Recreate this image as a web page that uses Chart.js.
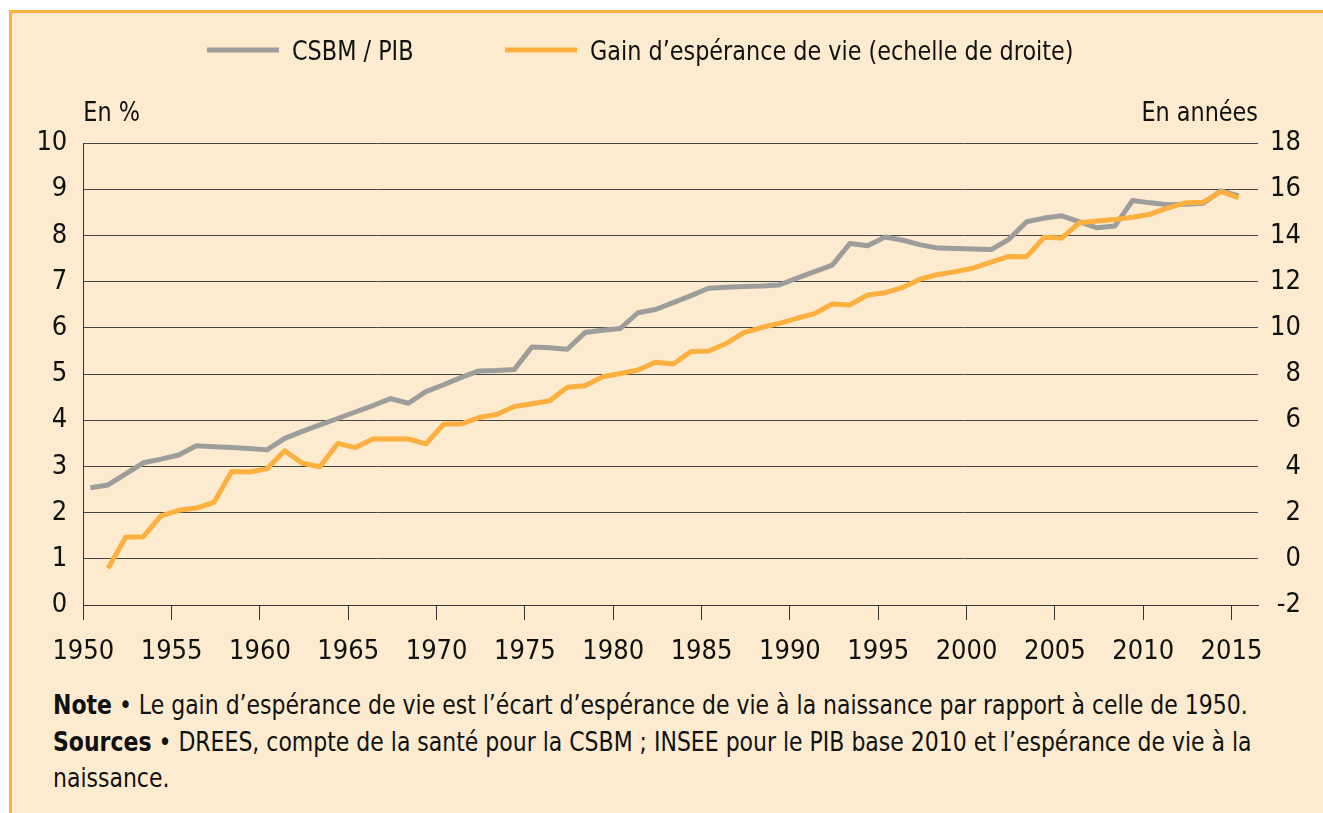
<!DOCTYPE html>
<html lang="fr">
<head>
<meta charset="utf-8">
<script src="https://cdn.jsdelivr.net/npm/chart.js@4"></script>
<style>
  body { margin: 0; background: #fff; overflow: hidden; }
  #frame {
    position: absolute; left: 9px; top: 10px; width: 1330px; height: 820px;
    background: #fdebcf; border-left: 3px solid #fbb040; border-top: 3px solid #fbb040;
  }
  #chart { position: absolute; left: 0; top: 0; }
  .notes {
    position: absolute; left: 53px; top: 687px; white-space: nowrap;
    font-family: 'DejaVu Sans Condensed', 'DejaVu Sans', sans-serif;
    font-size: 27px; line-height: 36.5px; color: #111;
    transform: scaleX(0.905); transform-origin: left top;
  }
</style>
</head>
<body>
<div id="frame"></div>
<canvas id="chart" width="1323" height="680"></canvas>
<div class="notes"><b>Note</b> • Le gain d’espérance de vie est l’écart d’espérance de vie à la naissance par rapport à celle de 1950.<br><b>Sources</b> • DREES, compte de la santé pour la CSBM ; INSEE pour le PIB base 2010 et l’espérance de vie à la<br>naissance.</div>

<script>
const fontFamily = "'DejaVu Sans Condensed', 'DejaVu Sans', sans-serif";

const years = [];
for (let y = 1950; y <= 2015; y++) years.push(y);

// CSBM / PIB, en % (échelle de gauche)
const csbmPib = [
  2.54, 2.60, 2.84, 3.08, 3.16, 3.25, 3.45, 3.43, 3.41, 3.39,
  3.36, 3.61, 3.76, 3.90, 4.04, 4.18, 4.32, 4.47, 4.37, 4.62,
  4.77, 4.93, 5.07, 5.08, 5.10, 5.59, 5.57, 5.54, 5.90, 5.95,
  5.99, 6.33, 6.40, 6.55, 6.70, 6.86, 6.88, 6.90, 6.91, 6.93,
  7.08, 7.22, 7.36, 7.83, 7.78, 7.97, 7.90, 7.80, 7.73, 7.72,
  7.71, 7.70, 7.92, 8.30, 8.38, 8.43, 8.30, 8.17, 8.21, 8.76,
  8.71, 8.67, 8.68, 8.70, 8.97, 8.86
];

// Gain d'espérance de vie, en années (échelle de droite)
const gainEsperance = [
  null, -0.41, 0.93, 0.96, 1.86, 2.10, 2.20, 2.45, 3.78, 3.76,
  3.90, 4.68, 4.14, 3.99, 5.00, 4.82, 5.19, 5.19, 5.19, 4.98,
  5.83, 5.85, 6.12, 6.25, 6.60, 6.72, 6.85, 7.43, 7.50, 7.89,
  8.03, 8.18, 8.52, 8.44, 8.98, 9.00, 9.33, 9.80, 10.02, 10.20,
  10.42, 10.62, 11.04, 11.00, 11.43, 11.53, 11.76, 12.12, 12.32, 12.44,
  12.60, 12.85, 13.10, 13.09, 13.93, 13.90, 14.56, 14.63, 14.70, 14.80,
  14.93, 15.20, 15.42, 15.45, 15.91, 15.65
];

const tickYears = [1950, 1955, 1960, 1965, 1970, 1975, 1980, 1985, 1990, 1995, 2000, 2005, 2010, 2015];
const axisLead = 0.4; // la graduation précède le point de l'année

const grey = '#9d9d9b';
const orange = '#fbb040';

// texte un peu resserré, comme la police étroite de l'original
function condensedText(ctx, text, x, y, align) {
  ctx.save();
  ctx.translate(x, y);
  ctx.scale(0.92, 1);
  ctx.textAlign = align;
  ctx.fillText(text, 0, 0);
  ctx.restore();
}

const decorations = {
  id: 'decorations',
  afterDraw(chart) {
    const { ctx, chartArea } = chart;
    ctx.save();
    ctx.font = '27px ' + fontFamily;
    ctx.fillStyle = '#111';
    ctx.textBaseline = 'alphabetic';
    condensedText(ctx, 'En %', chartArea.left, chartArea.top - 22, 'left');
    condensedText(ctx, 'En années', chartArea.right, chartArea.top - 22, 'right');

    // légende
    const legendX = [207, 505];
    chart.data.datasets.forEach((ds, i) => {
      ctx.fillStyle = ds.borderColor;
      ctx.fillRect(legendX[i], 47.5, 72, 5);
      ctx.fillStyle = '#111';
      condensedText(ctx, ds.label, legendX[i] + 85, 60, 'left');
    });
    ctx.restore();
  }
};

Chart.defaults.font.family = fontFamily;
Chart.defaults.font.size = 27;
Chart.defaults.color = '#111';

new Chart(document.getElementById('chart'), {
  type: 'line',
  data: {
    datasets: [
      {
        label: 'CSBM / PIB',
        data: years.map((y, i) => ({ x: y, y: csbmPib[i] })),
        borderColor: grey,
        borderWidth: 5,
        pointRadius: 0,
        yAxisID: 'y',
        order: 1
      },
      {
        label: 'Gain d’espérance de vie (echelle de droite)',
        data: years.map((y, i) => ({ x: y, y: gainEsperance[i] })),
        borderColor: orange,
        borderWidth: 5,
        pointRadius: 0,
        yAxisID: 'y1',
        order: 0
      }
    ]
  },
  options: {
    responsive: false,
    animation: false,
    layout: { padding: { top: 143.3, left: 0, right: 22, bottom: 0 } },
    plugins: {
      legend: { display: false },
      tooltip: { enabled: false }
    },
    elements: { line: { borderJoinStyle: 'round', tension: 0 } },
    scales: {
      x: {
        type: 'linear',
        min: 1950 - axisLead,
        max: 2016.1,
        afterBuildTicks: (scale) => {
          scale.ticks = tickYears.map(y => ({ value: y - axisLead }));
        },
        afterFit: (scale) => { scale.height = 75; },
        ticks: {
          padding: 16,
          maxRotation: 0,
          autoSkip: false,
          callback: (value) => String(Math.round(value + axisLead))
        },
        grid: { drawOnChartArea: false, drawTicks: true, tickLength: 15, color: '#333', lineWidth: 1 },
        border: { display: true, color: '#333', width: 1 }
      },
      y: {
        position: 'left',
        min: 0,
        max: 10,
        afterFit: (scale) => { scale.width = 83.3; },
        ticks: { stepSize: 1, padding: 16 },
        grid: { drawTicks: false, color: '#444', lineWidth: 1 },
        border: { display: true, color: '#333', width: 1 }
      },
      y1: {
        position: 'right',
        min: -2,
        max: 18,
        afterFit: (scale) => { scale.width = 43; },
        ticks: { stepSize: 2, padding: 16, crossAlign: 'far' },
        grid: { drawOnChartArea: false, drawTicks: false },
        border: { display: false }
      }
    }
  },
  plugins: [decorations]
});
</script>
</body>
</html>
